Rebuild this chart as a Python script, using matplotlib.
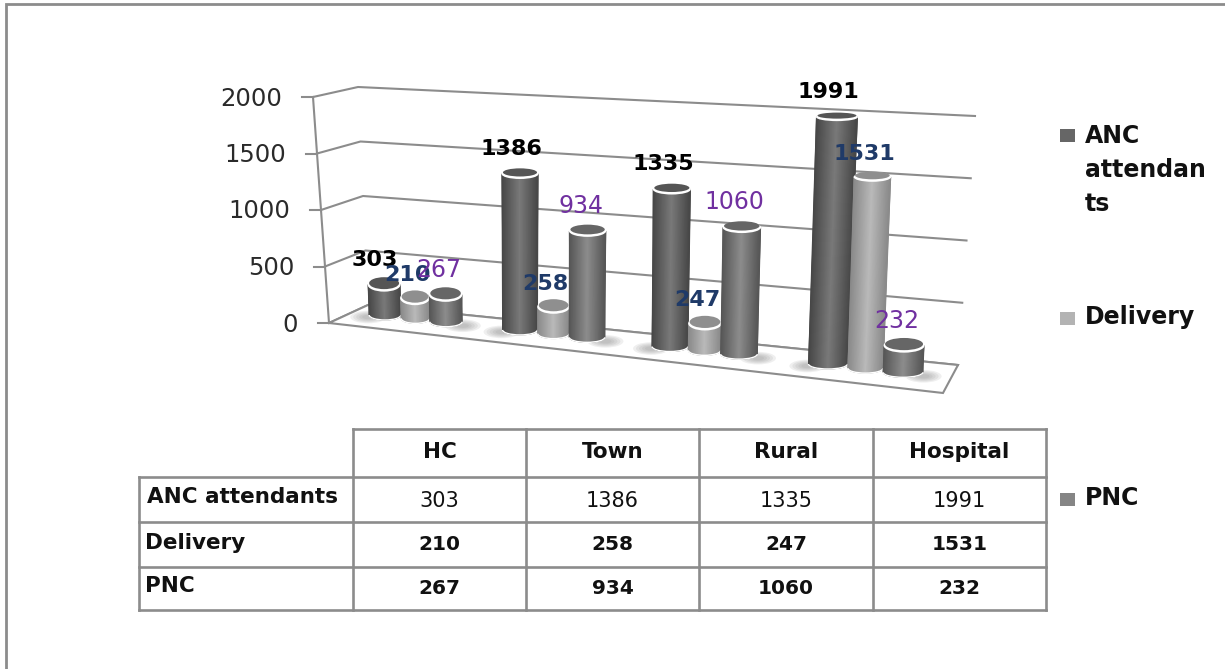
import matplotlib
matplotlib.use("Agg")
import matplotlib.pyplot as plt
import numpy as np
from matplotlib.colors import LinearSegmentedColormap
from matplotlib.patches import Arc, Ellipse, Polygon, Rectangle

categories = ["HC", "Town", "Rural", "Hospital"]
series_names = ["ANC attendants", "Delivery", "PNC"]
anc = [303, 1386, 1335, 1991]
delivery = [210, 258, 247, 1531]
pnc = [267, 934, 1060, 232]
y_ticks = [0, 500, 1000, 1500, 2000]

series_values = [anc, delivery, pnc]

# layout in image pixels, y pointing down
group_x = [385, 520, 670, 828]
group_pitch = [30.5, 33.5, 34.5, 37.5]
width_factor = [0.52, 0.47, 0.53]
label_offset = [(-9, -25), (-8, -23), (-7, -25)]
label_color = ["black", "#1f3a68", "#7030a0"]
label_weight = ["bold", "bold", "normal"]
label_size = [16, 16, 17]
shades = [("#474747", "#7a7a7a"), ("#8a8a8a", "#bababa"), ("#565656", "#8d8d8d")]
top_color = ["#555555", "#8f8f8f", "#666666"]
legend_color = ["#666666", "#b3b3b3", "#858585"]

GRID = "#8c8c8c"

fig = plt.figure(figsize=(12.25, 6.69), dpi=100)
ax = fig.add_axes([0, 0, 1, 1])
ax.set_xlim(0, 1225)
ax.set_ylim(669, 0)
ax.axis("off")


def base_y(x):
    return 318 + 0.1106 * (x - 385)


def value_height(x, value):
    return value * (0.11 + (x - 385) * 3.5e-5)


def lean(x, value):
    return np.interp(x, [329, 385, 520, 683, 828, 905], [-16, -6, 0, 3, 9, 9]) * value / 2000


def wall(corner0, corner2000, value):
    f = value / 2000
    return (corner0[0] + (corner2000[0] - corner0[0]) * f,
            corner0[1] + (corner2000[1] - corner0[1]) * f)


# outer frame of the pasted picture
ax.plot([6, 6, 1225], [669, 4, 4], color=GRID, lw=2, solid_joinstyle="miter")

# chart walls and floor
front0, front2000 = (329, 323), (313, 97)
back0, back2000 = (368, 305), (358, 87)
right0, right2000 = (958, 365), (975, 116)

ax.add_patch(Polygon([front0, (943, 393), right0, back0], facecolor="white",
                     edgecolor=GRID, lw=1.5, zorder=2))
for v in y_ticks:
    p1, p2, p3 = wall(front0, front2000, v), wall(back0, back2000, v), wall(right0, right2000, v)
    ax.plot([p1[0], p2[0], p3[0]], [p1[1], p2[1], p3[1]], color=GRID, lw=1.5, zorder=1)
    ax.plot([p1[0] - 11, p1[0]], [p1[1], p1[1]], color=GRID, lw=1.5, zorder=3)
    ax.text(p1[0] - 31, p1[1] + 1.5, str(v), ha="right", va="center", fontsize=17.5, color="#2a2a2a")
ax.plot([front0[0], front2000[0]], [front0[1], front2000[1]], color=GRID, lw=1.5, zorder=3)


def cylinder(x, value, half, j, z):
    yb = base_y(x)
    h = value_height(x, value)
    dx = lean(x, value)
    yt = yb - h
    top_half = half * (1 + 0.05 * value / 2000)
    e_top = 6.5 - 3.5 * value / 2000
    e_bot = 5

    u = np.linspace(-1, 1, 41)
    xs = np.vstack([x + u * half, x + dx + u * top_half])
    ys = np.vstack([yb + e_bot * np.sqrt(1 - u ** 2) - 3, np.full(u.shape, yt)])
    cmap = LinearSegmentedColormap.from_list("c", [shades[j][0], shades[j][1], shades[j][0]])
    c = np.vstack([(u + 1) / 2, (u + 1) / 2])
    ax.pcolormesh(xs, ys, c, cmap=cmap, shading="gouraud", zorder=z)

    ax.add_patch(Ellipse((x + dx, yt), 2 * top_half + 1, 2 * e_top + 2, facecolor="white",
                         edgecolor="none", zorder=z + 0.1))
    ax.add_patch(Ellipse((x + dx, yt - 1.5), 2 * top_half - 2, 2 * e_top, facecolor=top_color[j],
                         edgecolor="none", zorder=z + 0.2))
    ax.add_patch(Arc((x, yb - 3), 2 * half, 2 * e_bot, theta1=0, theta2=180, color="white",
                     lw=1, zorder=z + 0.1))


def shadow(x, y, z):
    for w in [36, 30, 24, 18, 12]:
        ax.add_patch(Ellipse((x, y), w, w * 0.35, facecolor="#808080", alpha=0.12,
                             edgecolor="none", zorder=z))


# cylinders, left to right so that each one sits on top of the previous
z = 4
labels = []
for i in range(len(categories)):
    pitch = group_pitch[i]
    first = group_x[i]
    last = first + 2 * pitch
    shadow(first - pitch * 0.55, base_y(first) - 1, 3)
    shadow(last + pitch * 0.55, base_y(last) + 1, 3)
    for j, values in enumerate(series_values):
        x = first + j * pitch
        half = pitch * width_factor[j]
        cylinder(x, values[i], half, j, z)
        z += 1
        labels.append((x, values[i], j))

for x, value, j in labels:
    tx = x + lean(x, value) + label_offset[j][0]
    ty = base_y(x) - value_height(x, value) + label_offset[j][1]
    ax.text(tx, ty, str(value), ha="center", va="center", fontsize=label_size[j],
            fontweight=label_weight[j], color=label_color[j], zorder=100)

# data table
col_x = [353, 526, 699, 873, 1046]
row_y = [429, 477, 522, 567, 610]
left_x = 139
table_lw = 1.9
for cx in col_x:
    ax.plot([cx, cx], [row_y[0], row_y[-1]], color=GRID, lw=table_lw, zorder=5, solid_capstyle="projecting")
ax.plot([col_x[0], col_x[-1]], [row_y[0], row_y[0]], color=GRID, lw=table_lw, solid_capstyle="projecting")
for ry in row_y[1:]:
    ax.plot([left_x, col_x[-1]], [ry, ry], color=GRID, lw=table_lw, solid_capstyle="projecting")
ax.plot([left_x, left_x], [row_y[1], row_y[-1]], color=GRID, lw=table_lw, solid_capstyle="projecting")

for i, name in enumerate(categories):
    ax.text((col_x[i] + col_x[i + 1]) / 2, 452.5, name, ha="center", va="center",
            fontsize=15.5, fontweight="bold", color="#111111")

row_text_y = [501, 544, 588]
row_label_x = [147, 145, 145]
row_label_y = [497, 543, 586]
row_weight = ["normal", "bold", "bold"]
for r, values in enumerate(series_values):
    ax.text(row_label_x[r], row_label_y[r], series_names[r], ha="left", va="center",
            fontsize=15.5, fontweight="bold", color="#111111")
    for i, v in enumerate(values):
        ax.text((col_x[i] + col_x[i + 1]) / 2, row_text_y[r], str(v), ha="center", va="center",
                fontsize=15 if row_weight[r] == "normal" else 14.5, fontweight=row_weight[r], color="#111111")

# legend
legend_y = [135.5, 318.5, 499]
for name, ly, color in zip(series_names, legend_y, legend_color):
    ax.add_patch(Rectangle((1060, ly - 6.5), 15, 13, facecolor=color, edgecolor="none"))
ax.text(1085, 136, "ANC", ha="left", va="center", fontsize=17, fontweight="bold", color="#111111")
ax.text(1085, 170, "attendan", ha="left", va="center", fontsize=17, fontweight="bold", color="#111111")
ax.text(1085, 204, "ts", ha="left", va="center", fontsize=17, fontweight="bold", color="#111111")
ax.text(1085, 317, series_names[1], ha="left", va="center", fontsize=17, fontweight="bold", color="#111111")
ax.text(1085, 498, series_names[2], ha="left", va="center", fontsize=17, fontweight="bold", color="#111111")

ax.set_xlim(0, 1225)
ax.set_ylim(669, 0)
fig.savefig("out.png", dpi=100, facecolor="white")
